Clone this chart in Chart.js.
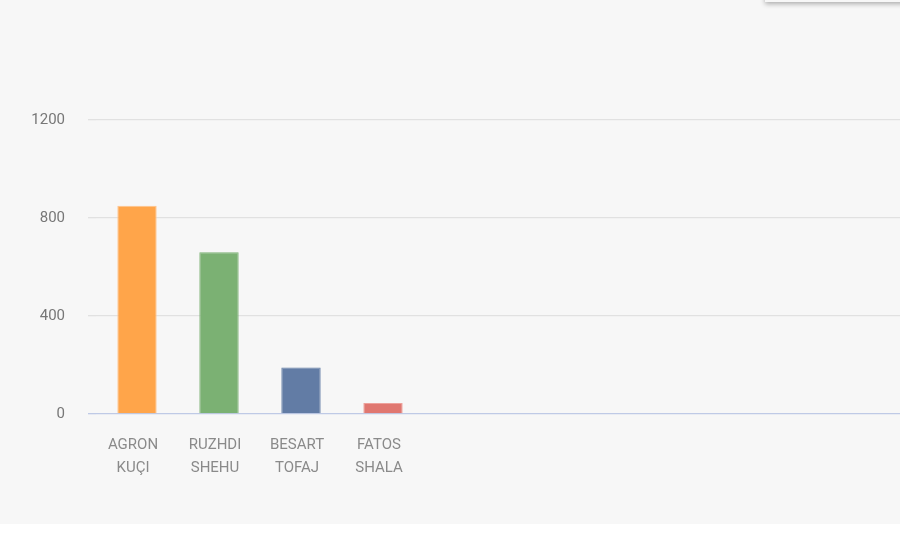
<!DOCTYPE html>
<html>
<head>
<meta charset="utf-8">
<script src="https://cdn.jsdelivr.net/npm/chart.js@4"></script>
<style>
  body { margin: 0; background: #ffffff; overflow: hidden; }
  #panel {
    position: relative;
    width: 900px;
    height: 524px;
    background: #f7f7f7;
    overflow: hidden;
    box-shadow: 0 1px 3px rgba(0, 0, 0, 0.12);
  }
  #card {
    position: absolute;
    left: 765px;
    top: -12px;
    width: 200px;
    height: 14px;
    background: #f7f7f7;
    box-shadow: 0 2px 5px rgba(0, 0, 0, 0.3);
  }
  #myChart { position: absolute; left: 0; top: 0; }
</style>
</head>
<body>
<div id="panel">
  <canvas id="myChart" width="920" height="524"></canvas>
  <div id="card"></div>
</div>
<script>
// Data
const names = [['AGRON', 'KUÇI'], ['RUZHDI', 'SHEHU'], ['BESART', 'TOFAJ'], ['FATOS', 'SHALA'], '', '', '', '', '', ''];
const votes = [850, 660, 190, 45];
const barColors = ['#ffa54a', '#7bb173', '#627ca5', '#e07770'];
const barEdges = ['#ffc38c', '#7bb173', '#627ca5', '#eea19b'];
const yTicks = [0, 400, 800, 1200];

// Makes Chart
const ctx = document.getElementById('myChart').getContext('2d');
const myChart = new Chart(ctx, {
  type: 'bar',
  data: {
    labels: names,
    datasets: [{
      data: votes,
      backgroundColor: barColors,
      borderColor: barEdges,
      borderWidth: 1,
      categoryPercentage: 0.8,
      barPercentage: 0.6
    }]
  },
  options: {
    responsive: false,
    animation: false,
    layout: { padding: { top: 120, right: 4, left: 0, bottom: 0 } },
    scales: {
      x: {
        grid: { display: false, drawTicks: false },
        border: { display: false },
        ticks: {
          color: '#8a8a8a',
          padding: 20,
          labelOffset: -4,
          maxRotation: 0,
          autoSkip: false,
          font: { family: 'Roboto', size: 15, lineHeight: 1.5 }
        },
        afterFit: function (scale) { scale.height = 110; }
      },
      y: {
        min: 0,
        max: 1200,
        afterBuildTicks: function (scale) {
          scale.ticks = yTicks.map(v => ({ value: v }));
        },
        grid: {
          color: c => (c.tick && c.tick.value === 0) ? '#bfcae6' : '#e1e1e1',
          lineWidth: 1.3,
          tickLength: 8
        },
        border: { display: false },
        ticks: {
          color: '#777777',
          padding: 23,
          font: { family: 'Roboto', size: 15 },
          callback: v => String(v)
        },
        afterFit: function (scale) { scale.width = 96; }
      }
    },
    plugins: {
      legend: { display: false },
      tooltip: { enabled: false }
    }
  }
});
</script>
</body>
</html>
